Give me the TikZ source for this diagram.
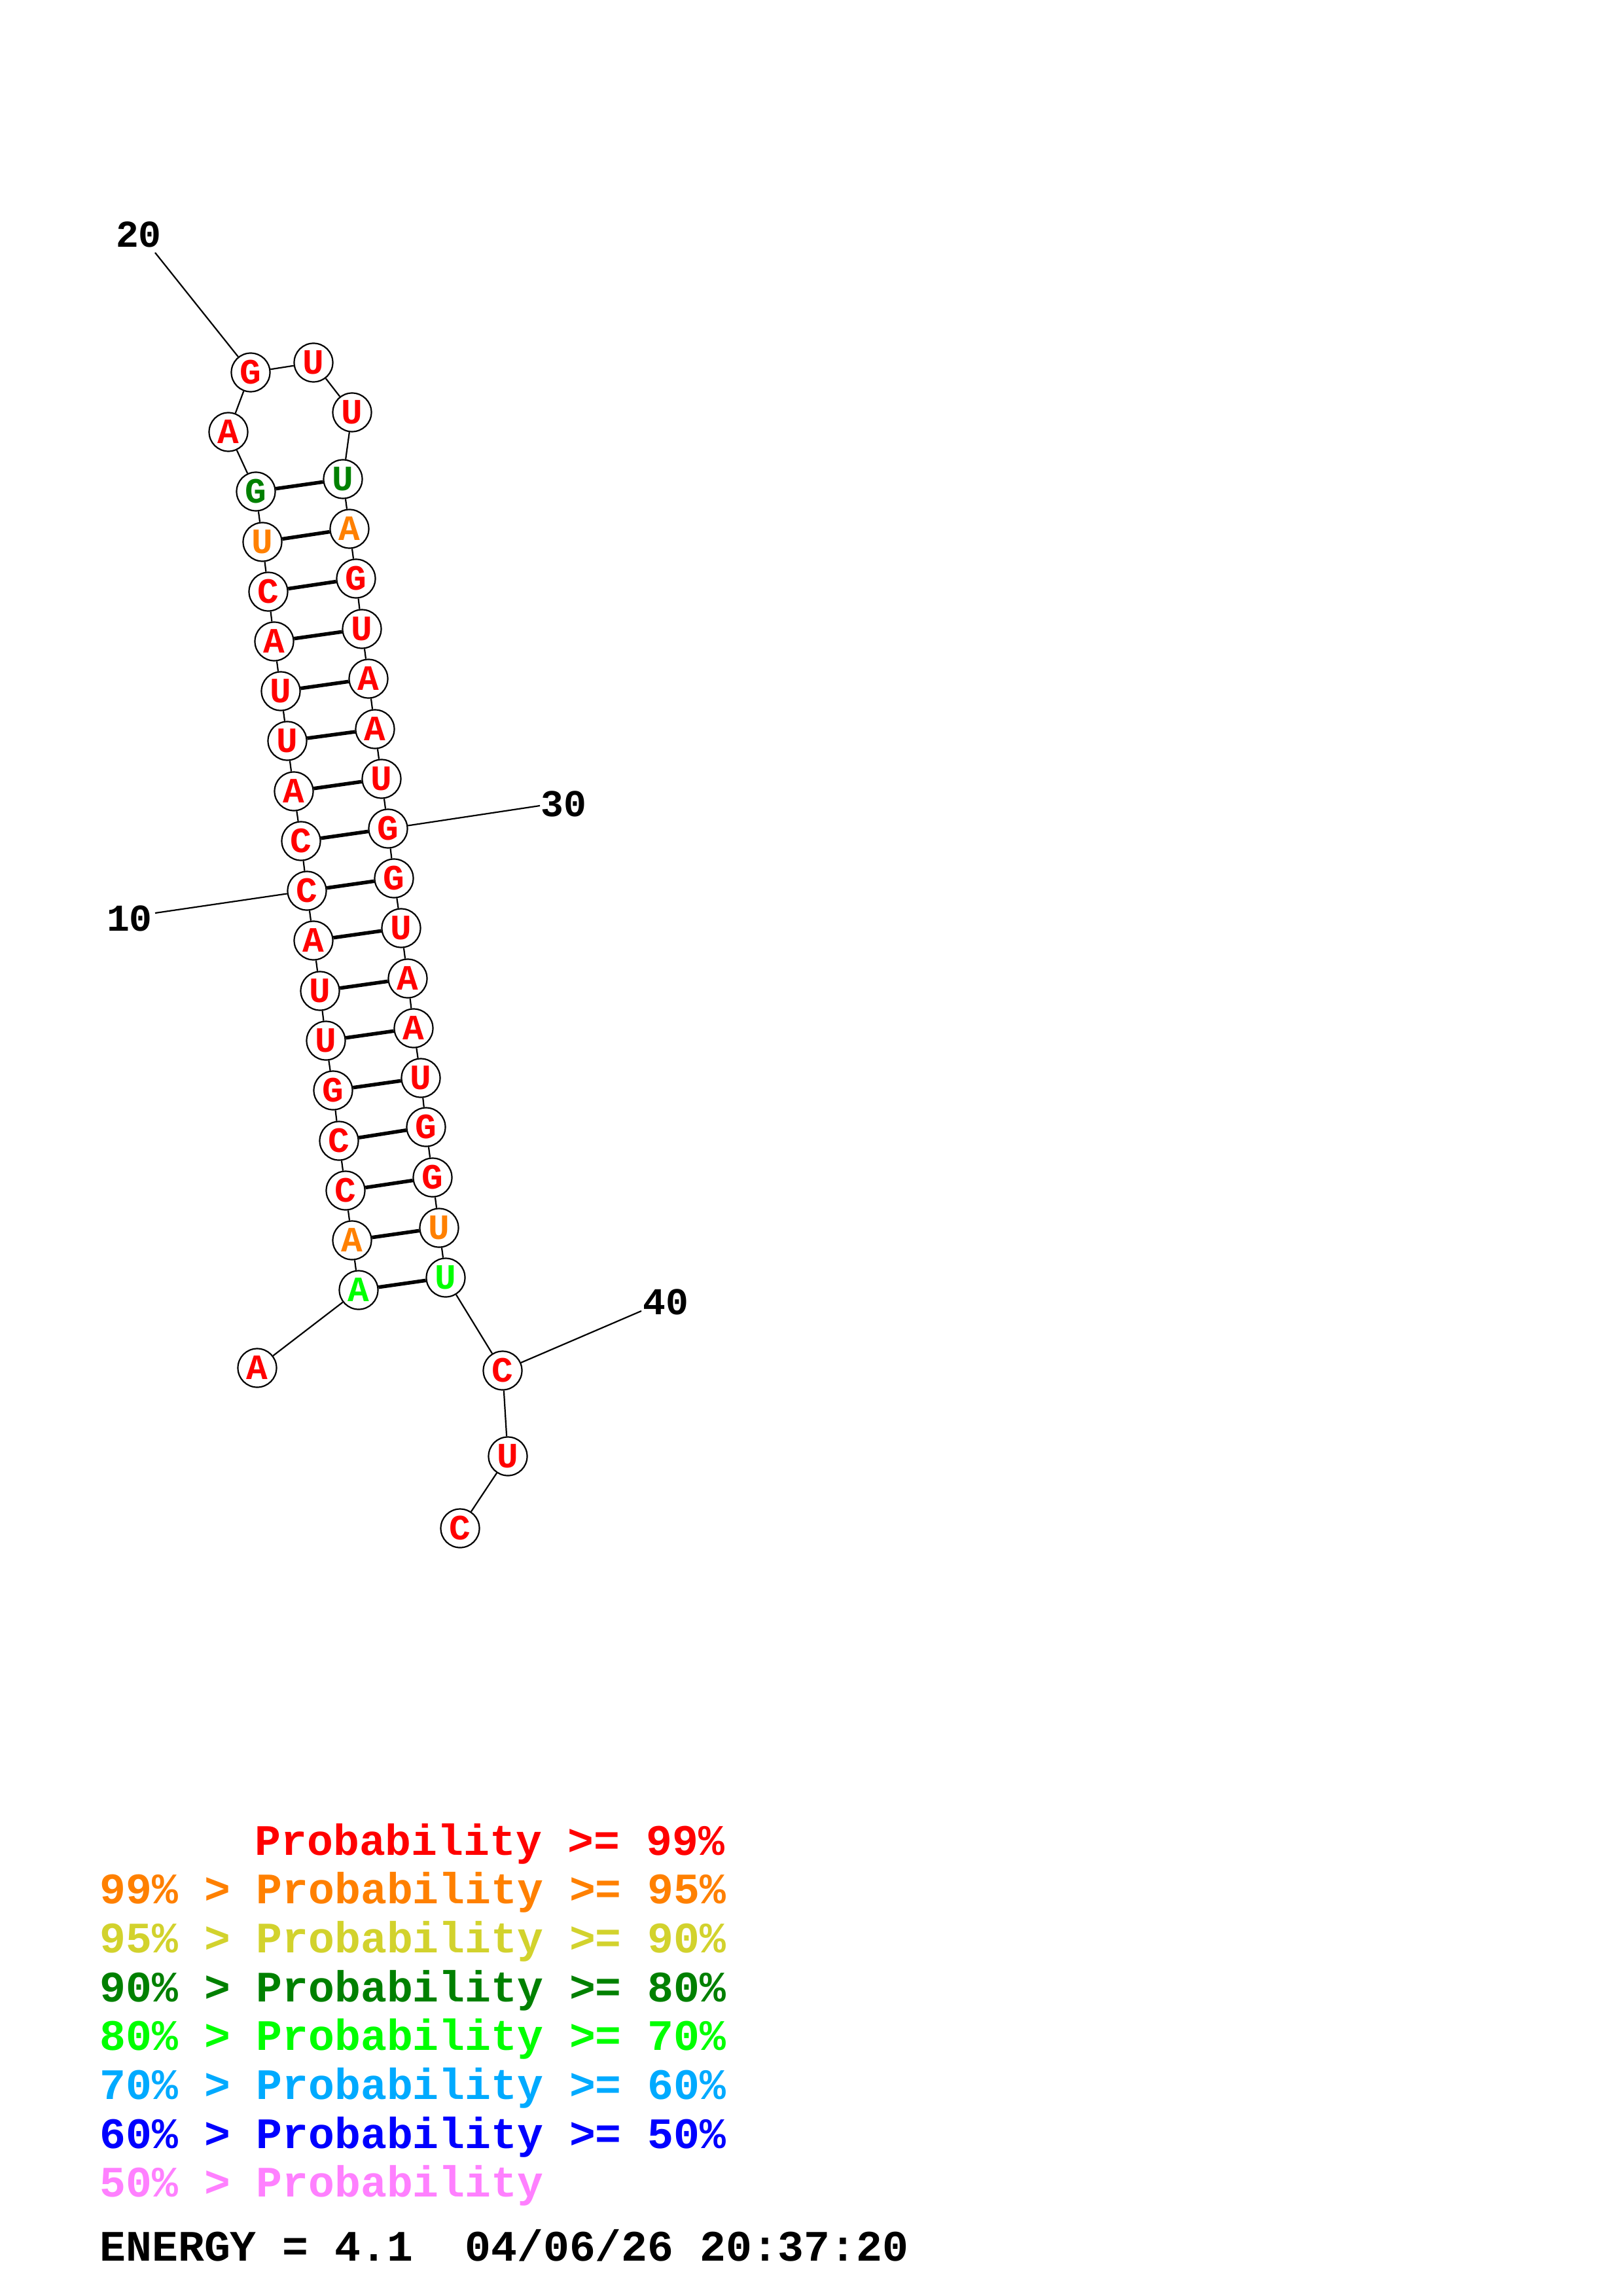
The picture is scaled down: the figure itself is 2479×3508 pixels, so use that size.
\documentclass[tikz,border=0pt]{standalone}
\usepackage{fontspec}
\usepackage{xcolor}
\usepackage{tikz}
\newfontfamily\monofont{Liberation Mono}
\definecolor{pred}{RGB}{255,0,0}
\definecolor{porange}{RGB}{255,128,0}
\definecolor{pyellow}{RGB}{210,210,45}
\definecolor{pdkgreen}{RGB}{0,128,0}
\definecolor{pgreen}{RGB}{0,255,0}
\definecolor{pltblue}{RGB}{0,170,255}
\definecolor{pblue}{RGB}{0,0,255}
\definecolor{ppink}{RGB}{255,128,255}
\tikzstyle{nuc} = [circle, draw=black, line width=0.22mm, minimum size=5.9mm, inner sep=0pt, fill=white, text=pred, font=\monofont\bfseries\fontsize{15.5}{17}\selectfont]
\tikzstyle{backbone} = [line width=0.22mm]
\tikzstyle{pair} = [line width=0.55mm]
\tikzstyle{numlabel} = [inner sep=0pt, font=\monofont\bfseries\fontsize{16.5}{19}\selectfont]
\tikzstyle{legend} = [anchor=base west, inner sep=0pt, font=\monofont\bfseries\fontsize{18.9}{22}\selectfont]

\begin{document}
\begin{tikzpicture}[x=0.1mm, y=-0.1mm]
	\useasboundingbox (0,0) rectangle (2479,3508);

		% Draw the nucleotides
		\node (n1) [nuc] at (393,2090) {A};
		\node (n2) [nuc, text=pgreen] at (548,1971) {A};
		\node (n3) [nuc, text=porange] at (538,1895) {A};
		\node (n4) [nuc] at (528,1819) {C};
		\node (n5) [nuc] at (518,1743) {C};
		\node (n6) [nuc] at (509,1666) {G};
		\node (n7) [nuc] at (498,1590) {U};
		\node (n8) [nuc] at (489,1514) {U};
		\node (n9) [nuc] at (479,1437) {A};
		\node (n10) [nuc] at (469,1361) {C};
		\node (n11) [nuc] at (460,1285) {C};
		\node (n12) [nuc] at (449,1209) {A};
		\node (n13) [nuc] at (439,1132) {U};
		\node (n14) [nuc] at (429,1056) {U};
		\node (n15) [nuc] at (419,980) {A};
		\node (n16) [nuc] at (410,904) {C};
		\node (n17) [nuc, text=porange] at (401,828) {U};
		\node (n18) [nuc, text=pdkgreen] at (391,751) {G};
		\node (n19) [nuc] at (349,660) {A};
		\node (n20) [nuc] at (383,569) {G};
		\node (n21) [nuc] at (479,554) {U};
		\node (n22) [nuc] at (538,630) {U};
		\node (n23) [nuc, text=pdkgreen] at (524,732) {U};
		\node (n24) [nuc, text=porange] at (534,808) {A};
		\node (n25) [nuc] at (544,884) {G};
		\node (n26) [nuc] at (553,961) {U};
		\node (n27) [nuc] at (563,1037) {A};
		\node (n28) [nuc] at (573,1114) {A};
		\node (n29) [nuc] at (583,1190) {U};
		\node (n30) [nuc] at (593,1266) {G};
		\node (n31) [nuc] at (602,1342) {G};
		\node (n32) [nuc] at (613,1418) {U};
		\node (n33) [nuc] at (623,1495) {A};
		\node (n34) [nuc] at (632,1571) {A};
		\node (n35) [nuc] at (643,1647) {U};
		\node (n36) [nuc] at (651,1722) {G};
		\node (n37) [nuc] at (661,1799) {G};
		\node (n38) [nuc, text=porange] at (671,1876) {U};
		\node (n39) [nuc, text=pgreen] at (681,1952) {U};
		\node (n40) [nuc] at (768,2094) {C};
		\node (n41) [nuc] at (776,2225) {U};
		\node (n42) [nuc] at (703,2335) {C};

		% Numbering
		\coordinate (c10) at (237,1395);
		\coordinate (c20) at (237,386);
		\coordinate (c30) at (825,1231);
		\coordinate (c40) at (980,2003);
		\node (lab10) [numlabel] at (198,1403) {10};
		\node (lab20) [numlabel] at (212,358) {20};
		\node (lab30) [numlabel] at (861,1228) {30};
		\node (lab40) [numlabel] at (1017,1989) {40};

		% Draw the lines
		\draw [backbone] (n10) -- (c10);
		\draw [backbone] (n20) -- (c20);
		\draw [backbone] (n30) -- (c30);
		\draw [backbone] (n40) -- (c40);
		\draw [backbone] (n1) -- (n2) -- (n3) -- (n4) -- (n5) -- (n6) -- (n7) -- (n8) -- (n9) -- (n10)
			-- (n11) -- (n12) -- (n13) -- (n14) -- (n15) -- (n16) -- (n17) -- (n18) -- (n19) -- (n20)
			-- (n21) -- (n22) -- (n23) -- (n24) -- (n25) -- (n26) -- (n27) -- (n28) -- (n29) -- (n30)
			-- (n31) -- (n32) -- (n33) -- (n34) -- (n35) -- (n36) -- (n37) -- (n38) -- (n39) -- (n40)
			-- (n41) -- (n42);
		\draw [pair] (n2) -- (n39);
		\draw [pair] (n3) -- (n38);
		\draw [pair] (n4) -- (n37);
		\draw [pair] (n5) -- (n36);
		\draw [pair] (n6) -- (n35);
		\draw [pair] (n7) -- (n34);
		\draw [pair] (n8) -- (n33);
		\draw [pair] (n9) -- (n32);
		\draw [pair] (n10) -- (n31);
		\draw [pair] (n11) -- (n30);
		\draw [pair] (n12) -- (n29);
		\draw [pair] (n13) -- (n28);
		\draw [pair] (n14) -- (n27);
		\draw [pair] (n15) -- (n26);
		\draw [pair] (n16) -- (n25);
		\draw [pair] (n17) -- (n24);
		\draw [pair] (n18) -- (n23);

		% Legend
		\node (leg1) [legend, text=pred] at (389,2834) {Probability >= 99\%};
		\node (leg2) [legend, text=porange] at (152,2908) {99\% > Probability >= 95\%};
		\node (leg3) [legend, text=pyellow] at (152,2983) {95\% > Probability >= 90\%};
		\node (leg4) [legend, text=pdkgreen] at (152,3058) {90\% > Probability >= 80\%};
		\node (leg5) [legend, text=pgreen] at (152,3132) {80\% > Probability >= 70\%};
		\node (leg6) [legend, text=pltblue] at (152,3207) {70\% > Probability >= 60\%};
		\node (leg7) [legend, text=pblue] at (152,3282) {60\% > Probability >= 50\%};
		\node (leg8) [legend, text=ppink] at (152,3356) {50\% > Probability};
		\node (energy) [legend] at (152,3454) {ENERGY = 4.1\ \ 04/06/26 20:37:20};

\end{tikzpicture}
\end{document}
